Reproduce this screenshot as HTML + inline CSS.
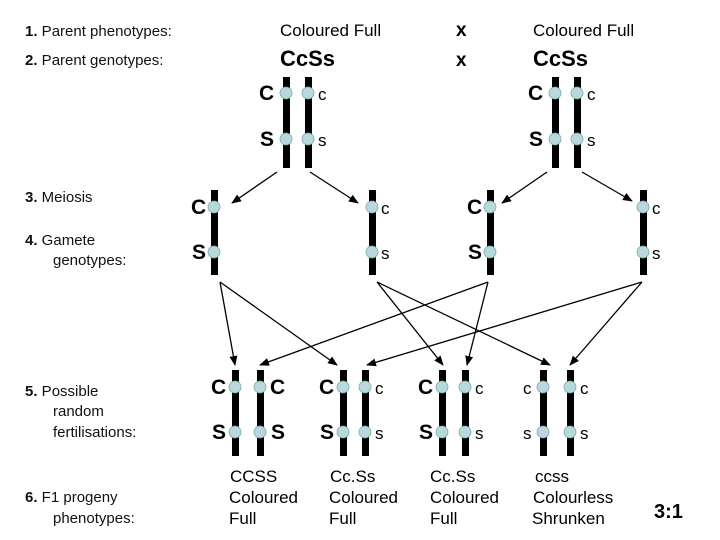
<!DOCTYPE html>
<html><head><meta charset="utf-8"><style>
body{margin:0;background:#fff;}
svg{display:block;font-family:"Liberation Sans",Arial,sans-serif;}
.l{font-size:15px;fill:#111;}
.n{font-weight:bold;}
.B{font-size:21px;font-weight:bold;fill:#000;}
.s{font-size:17px;fill:#000;}
.p{font-size:17px;fill:#000;}
</style></head><body>
<svg width="720" height="540" viewBox="0 0 720 540" xmlns="http://www.w3.org/2000/svg">
<defs>
<marker id="a" markerWidth="10" markerHeight="8" refX="9" refY="4" orient="auto" markerUnits="userSpaceOnUse">
<path d="M0,0 L10,4 L0,8 z" fill="#000"/></marker>
<g id="dot"><circle r="6" fill="#b8d8dc" stroke="#7aa" stroke-width="0.8"/></g>
</defs>
<text x="25" y="36" class="l"><tspan class="n">1.</tspan>  Parent phenotypes:</text>
<text x="25" y="65" class="l"><tspan class="n">2.</tspan>  Parent genotypes:</text>
<text x="280" y="36" class="s">Coloured Full</text>
<text x="533" y="36" class="s">Coloured Full</text>
<text x="280" y="66" style="font-size:22px;font-weight:bold">CcSs</text>
<text x="533" y="66" style="font-size:22px;font-weight:bold">CcSs</text>
<text x="456" y="36" style="font-size:19px;font-weight:bold">x</text>
<text x="456" y="66" style="font-size:19px;font-weight:bold">x</text>
<text x="25" y="202" class="l"><tspan class="n">3.</tspan>  Meiosis</text>
<text x="25" y="245" class="l"><tspan class="n">4.</tspan>  Gamete</text>
<text x="53" y="265" class="l">genotypes:</text>
<text x="25" y="396" class="l"><tspan class="n">5.</tspan>  Possible</text>
<text x="53" y="416" class="l">random</text>
<text x="53" y="437" class="l">fertilisations:</text>
<text x="25" y="502" class="l"><tspan class="n">6.</tspan>  F1 progeny</text>
<text x="53" y="523" class="l">phenotypes:</text>

<g fill="#000">
<rect x="283" y="77" width="7" height="91"/><rect x="305" y="77" width="7" height="91"/>
<rect x="552" y="77" width="7" height="91"/><rect x="574" y="77" width="7" height="91"/>
<rect x="211" y="190" width="7" height="85"/><rect x="369" y="190" width="7" height="85"/>
<rect x="487" y="190" width="7" height="85"/><rect x="640" y="190" width="7" height="85"/>
<rect x="232" y="370" width="7" height="86"/><rect x="257" y="370" width="7" height="86"/>
<rect x="340" y="370" width="7" height="86"/><rect x="362" y="370" width="7" height="86"/>
<rect x="439" y="370" width="7" height="86"/><rect x="462" y="370" width="7" height="86"/>
<rect x="540" y="370" width="7" height="86"/><rect x="567" y="370" width="7" height="86"/>
</g>
<g>
<use href="#dot" x="286" y="93"/><use href="#dot" x="308" y="93"/><use href="#dot" x="286" y="139"/><use href="#dot" x="308" y="139"/>
<use href="#dot" x="555" y="93"/><use href="#dot" x="577" y="93"/><use href="#dot" x="555" y="139"/><use href="#dot" x="577" y="139"/>
<use href="#dot" x="214" y="207"/><use href="#dot" x="214" y="252"/><use href="#dot" x="372" y="207"/><use href="#dot" x="372" y="252"/>
<use href="#dot" x="490" y="207"/><use href="#dot" x="490" y="252"/><use href="#dot" x="643" y="207"/><use href="#dot" x="643" y="252"/>
<use href="#dot" x="235" y="387"/><use href="#dot" x="260" y="387"/><use href="#dot" x="235" y="432"/><use href="#dot" x="260" y="432"/>
<use href="#dot" x="343" y="387"/><use href="#dot" x="365" y="387"/><use href="#dot" x="343" y="432"/><use href="#dot" x="365" y="432"/>
<use href="#dot" x="442" y="387"/><use href="#dot" x="465" y="387"/><use href="#dot" x="442" y="432"/><use href="#dot" x="465" y="432"/>
<use href="#dot" x="543" y="387"/><use href="#dot" x="570" y="387"/><use href="#dot" x="543" y="432"/><use href="#dot" x="570" y="432"/>
</g>
<text x="259" y="100" class="B">C</text><text x="318" y="100" class="s">c</text>
<text x="260" y="146" class="B">S</text><text x="318" y="146" class="s">s</text>
<text x="528" y="100" class="B">C</text><text x="587" y="100" class="s">c</text>
<text x="529" y="146" class="B">S</text><text x="587" y="146" class="s">s</text>
<text x="191" y="214" class="B">C</text><text x="192" y="259" class="B">S</text>
<text x="381" y="214" class="s">c</text><text x="381" y="259" class="s">s</text>
<text x="467" y="214" class="B">C</text><text x="468" y="259" class="B">S</text>
<text x="652" y="214" class="s">c</text><text x="652" y="259" class="s">s</text>
<text x="211" y="394" class="B">C</text><text x="212" y="439" class="B">S</text>
<text x="270" y="394" class="B">C</text><text x="271" y="439" class="B">S</text>
<text x="319" y="394" class="B">C</text><text x="320" y="439" class="B">S</text>
<text x="375" y="394" class="s">c</text><text x="375" y="439" class="s">s</text>
<text x="418" y="394" class="B">C</text><text x="419" y="439" class="B">S</text>
<text x="475" y="394" class="s">c</text><text x="475" y="439" class="s">s</text>
<text x="523" y="394" class="s">c</text><text x="523" y="439" class="s">s</text>
<text x="580" y="394" class="s">c</text><text x="580" y="439" class="s">s</text>
<g stroke="#000" stroke-width="1.3" marker-end="url(#a)">
<line x1="277" y1="172" x2="232" y2="203"/><line x1="310" y1="172" x2="358" y2="203"/>
<line x1="547" y1="172" x2="502" y2="203"/><line x1="582" y1="172" x2="632" y2="201"/>
<line x1="220" y1="282" x2="235" y2="365"/><line x1="220" y1="282" x2="337" y2="365"/>
<line x1="377" y1="282" x2="443" y2="365"/><line x1="377" y1="282" x2="550" y2="365"/>
<line x1="488" y1="282" x2="260" y2="365"/><line x1="488" y1="282" x2="467" y2="365"/>
<line x1="642" y1="282" x2="367" y2="365"/><line x1="642" y1="282" x2="570" y2="365"/>
</g>
<text x="230" y="482" class="p">CCSS</text><text x="229" y="503" class="p">Coloured</text><text x="229" y="524" class="p">Full</text>
<text x="330" y="482" class="p">Cc.Ss</text><text x="329" y="503" class="p">Coloured</text><text x="329" y="524" class="p">Full</text>
<text x="430" y="482" class="p">Cc.Ss</text><text x="430" y="503" class="p">Coloured</text><text x="430" y="524" class="p">Full</text>
<text x="535" y="482" class="p">ccss</text><text x="533" y="503" class="p">Colourless</text><text x="532" y="524" class="p">Shrunken</text>
<text x="654" y="518" style="font-size:20px;font-weight:bold">3:1</text>
</svg>
</body></html>
